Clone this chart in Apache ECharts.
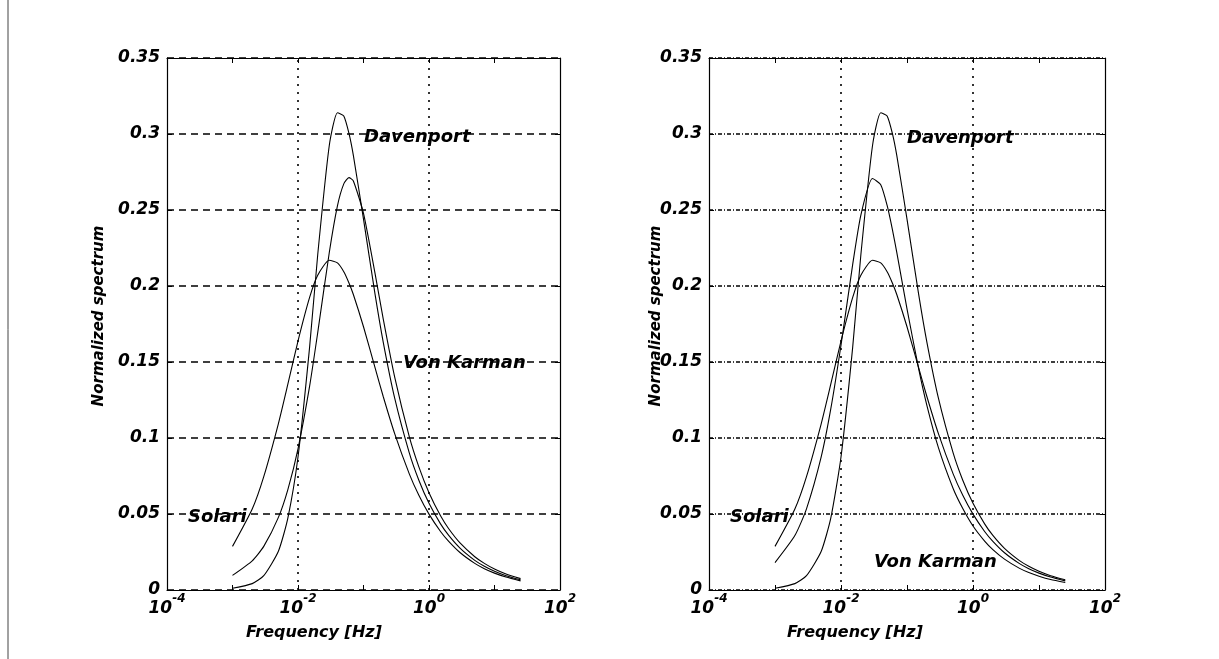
<!DOCTYPE html>
<html><head><meta charset="utf-8">
<script src="https://cdn.jsdelivr.net/npm/echarts@6/dist/echarts.min.js"></script>
<style>html,body{margin:0;padding:0;background:#fff}#c{width:1219px;height:659px}</style>
</head><body><div id="c"></div>
<script>
// Frequencies [Hz] at which the curves were read
const freq = [0.001, 0.002, 0.003, 0.005, 0.007, 0.01, 0.015, 0.02, 0.03, 0.04, 0.05, 0.06, 0.07, 0.1, 0.15, 0.2, 0.3, 0.5, 0.7, 1, 1.5, 2, 3, 5, 7, 10, 15, 25];
// Normalized spectra
const davenport = [0.0011, 0.0042, 0.0094, 0.0253, 0.0473, 0.0875, 0.1593, 0.2206, 0.2923, 0.3140, 0.3119, 0.3004, 0.2859, 0.2440, 0.1946, 0.1631, 0.1260, 0.0902, 0.0722, 0.0570, 0.0435, 0.0359, 0.0274, 0.0195, 0.0156, 0.0123, 0.0094, 0.0067];
const vonKarmanLeft = [0.0096, 0.0192, 0.0287, 0.0476, 0.0661, 0.0929, 0.1338, 0.1693, 0.2219, 0.2527, 0.2672, 0.2713, 0.2691, 0.2478, 0.2083, 0.1784, 0.1399, 0.1009, 0.0810, 0.0640, 0.0488, 0.0403, 0.0308, 0.0219, 0.0175, 0.0138, 0.0105, 0.0075];
const solari = [0.0287, 0.0533, 0.0746, 0.1092, 0.1354, 0.1638, 0.1923, 0.2071, 0.2169, 0.2152, 0.2094, 0.2020, 0.1944, 0.1732, 0.1463, 0.1273, 0.1027, 0.0764, 0.0623, 0.0499, 0.0385, 0.0320, 0.0245, 0.0175, 0.0140, 0.0111, 0.0085, 0.0060];
const vonKarmanRight = [0.0180, 0.0358, 0.0534, 0.0874, 0.1191, 0.1610, 0.2139, 0.2467, 0.2707, 0.2666, 0.2530, 0.2373, 0.2221, 0.1850, 0.1456, 0.1215, 0.0935, 0.0668, 0.0536, 0.0421, 0.0322, 0.0266, 0.0203, 0.0144, 0.0115, 0.0091, 0.0069, 0.0049];
// Axis settings
const xMin = 1e-4, xMax = 1e2;
const xGridLines = [0.01, 1];
const yMin = 0, yMax = 0.35, yStep = 0.05;
const xName = 'Frequency [Hz]';
const yName = 'Normalized spectrum';
const FONT = '"DejaVu Sans", "Liberation Sans", sans-serif';

function pairs(ys) { return freq.map((f, i) => [f, ys[i]]); }

const chart = echarts.init(document.getElementById('c'), null, {renderer: 'canvas'});

function xLabel(v) {
  const e = Math.round(Math.log10(v));
  if (e % 2 !== 0) return '';
  return '{b|10}{e|' + e + '}';
}
const txt = {fontFamily: FONT, fontWeight: 'bold', fontStyle: 'italic', color: '#000'};

function xAxes(gi) {
  return [
    {type: 'log', logBase: 10, gridIndex: gi, min: xMin, max: xMax, position: 'bottom',
     axisLine: {show: true, onZero: false, lineStyle: {color: '#000', width: 1.2}},
     axisTick: {show: true, inside: true, length: 5, lineStyle: {color: '#000'}},
     splitLine: {show: false}, minorTick: {show: false},
     axisLabel: {show: true, margin: 3, formatter: xLabel, showMinLabel: true, showMaxLabel: true,
       rich: {
         b: Object.assign({fontSize: 17, lineHeight: 24, verticalAlign: 'bottom'}, txt),
         e: Object.assign({fontSize: 12, lineHeight: 24, verticalAlign: 'top'}, txt)
       }}},
    {type: 'log', logBase: 10, gridIndex: gi, min: xMin, max: xMax, position: 'top',
     axisLine: {show: true, onZero: false, lineStyle: {color: '#000', width: 1.2}},
     axisTick: {show: true, inside: true, length: 5, lineStyle: {color: '#000'}},
     splitLine: {show: false}, axisLabel: {show: false}}
  ];
}
function yAxes(gi, dash) {
  return [
    {type: 'value', gridIndex: gi, min: yMin, max: yMax, interval: yStep, position: 'left',
     axisLine: {show: true, onZero: false, lineStyle: {color: '#000', width: 1.2}},
     axisTick: {show: true, inside: true, length: 5, lineStyle: {color: '#000'}},
     splitLine: {show: true, lineStyle: {color: '#000', width: 1.6, type: dash}},
     axisLabel: Object.assign({show: true, margin: 7, fontSize: 17}, txt)},
    {type: 'value', gridIndex: gi, min: yMin, max: yMax, interval: yStep, position: 'right',
     axisLine: {show: true, onZero: false, lineStyle: {color: '#000', width: 1.2}},
     axisTick: {show: true, inside: true, length: 5, lineStyle: {color: '#000'}},
     splitLine: {show: false}, axisLabel: {show: false}}
  ];
}

function line(name, ys, xi, yi, withGrid) {
  const s = {name, type: 'line', data: pairs(ys), xAxisIndex: xi, yAxisIndex: yi,
    showSymbol: false, smooth: 0.2,
    lineStyle: {color: '#000', width: 1.1}, silent: true, z: 5};
  if (withGrid) {
    s.markLine = {symbol: 'none', silent: true, label: {show: false},
      lineStyle: {color: '#000', width: 1.6, type: [2, 6]},
      data: xGridLines.map(v => ({xAxis: v}))};
  }
  return s;
}

const styleOf = (t, size, align) => ({text: t, fontFamily: FONT, fontWeight: 'bold', fontStyle: 'italic',
  fontSize: size, fill: '#000', textAlign: align, textVerticalAlign: 'middle'});
const textEl = (t, x, y, size, align, rot) => ({type: 'text', x, y, z: 100, rotation: rot || 0,
  style: styleOf(t, size, align || 'left')});

chart.setOption({
  animation: false,
  backgroundColor: '#fff',
  grid: [
    {left: 167, top: 58, width: 393, height: 532},
    {left: 709, top: 58, width: 396, height: 532}
  ],
  xAxis: [...xAxes(0), ...xAxes(1)],
  yAxis: [...yAxes(0, [7, 5]), ...yAxes(1, [4, 2, 1, 2])],
  series: [
    line('Davenport', davenport, 0, 0, true),
    line('Von Karman', vonKarmanLeft, 0, 0, false),
    line('Solari', solari, 0, 0, false),
    line('Davenport', davenport, 2, 2, true),
    line('Von Karman', vonKarmanRight, 2, 2, false),
    line('Solari', solari, 2, 2, false)
  ],
  graphic: [
    {type: 'line', shape: {x1: 8, y1: 0, x2: 8, y2: 659}, style: {stroke: '#444', lineWidth: 1}},
    textEl('Davenport', 364, 137, 18),
    textEl('Von Karman', 403, 363, 18),
    textEl('Solari', 188, 517, 18),
    textEl('Davenport', 907, 138, 18),
    textEl('Solari', 730, 517, 18),
    textEl('Von Karman', 874, 562, 18),
    textEl(xName, 314, 633, 16, 'center'),
    textEl(xName, 855, 633, 16, 'center'),
    textEl(yName, 99, 316, 15, 'center', Math.PI / 2),
    textEl(yName, 656, 316, 15, 'center', Math.PI / 2)
  ]
});
</script></body></html>
